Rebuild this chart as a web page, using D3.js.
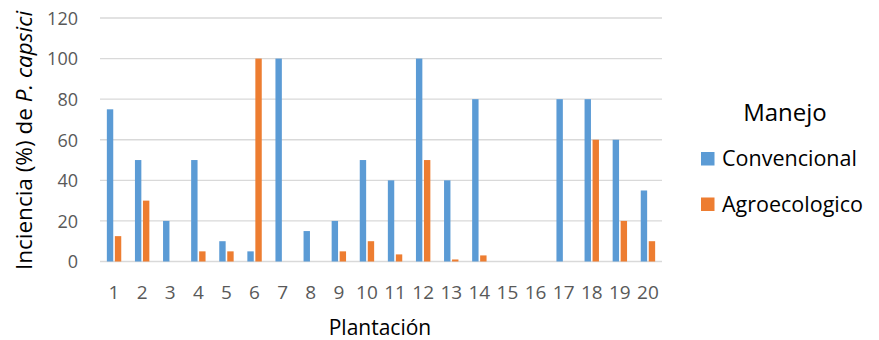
<!DOCTYPE html>
<html><head><meta charset="utf-8">
<script src="https://cdn.jsdelivr.net/npm/d3@7"></script>
<style>body{margin:0;background:#fff;} text{font-family:"Open Sans",sans-serif;}</style>
</head><body>
<svg id="c" width="879" height="340"></svg>
<script>
const categories = ["1","2","3","4","5","6","7","8","9","10","11","12","13","14","15","16","17","18","19","20"];
const convencional = [75,50,20,50,10,5,100,15,20,50,40,100,40,80,0,0,80,80,60,35];
const agroecologico = [12.5,30,0,5,5,100,0,0,5,10,3.5,50,1,3,0,0,0,60,20,10];
const seriesNames = ["Convencional","Agroecologico"];
const yTicks = [0,20,40,60,80,100,120];
const colors = ["#5B9BD5","#ED7D31"];

const svg = d3.select("#c");
const m = {left:100, right:662, top:18, bottom:261.5};
const x = d3.scaleBand().domain(categories).range([m.left, m.right]);
const y = d3.scaleLinear().domain([0,120]).range([m.bottom, m.top]);

// gridlines
svg.append("g").selectAll("line").data(yTicks).join("line")
  .attr("x1", m.left).attr("x2", m.right)
  .attr("y1", d=>y(d)).attr("y2", d=>y(d))
  .attr("stroke","#d9d9d9").attr("stroke-width",1.3);

// y axis labels
const yAxis = d3.axisLeft(y).tickValues(yTicks).tickSize(0).tickPadding(0);
const ya = svg.append("g").attr("transform","translate(78,0)").call(yAxis);
ya.select(".domain").remove();
ya.selectAll("text").attr("fill","#595959").style("font-size","18px").style("font-family","Open Sans").attr("dy","0.35em");

// x axis labels
const xAxis = d3.axisBottom(x).tickSize(0).tickPadding(0);
const xa = svg.append("g").attr("transform","translate(0,298.5)").call(xAxis);
xa.select(".domain").remove();
xa.selectAll("text").attr("fill","#595959").style("font-size","19px").style("font-family","Open Sans").attr("dy","0");

// bars
const bw = 6.4, gap = 1.6;
const data = [convencional, agroecologico];
data.forEach((vals, si) => {
  svg.append("g").selectAll("rect").data(vals).join("rect")
    .attr("x", (d,i) => x(categories[i]) + x.bandwidth()/2 + (si===0 ? -(bw+gap/2) : gap/2))
    .attr("width", bw)
    .attr("y", d => y(d))
    .attr("height", d => y(0) - y(d))
    .attr("fill", colors[si]);
});

// axis titles
svg.append("text").attr("transform","translate(32,140.5) rotate(-90)")
  .attr("text-anchor","middle").attr("fill","#000").style("font-size","22.5px")
  .html('Inciencia (%) de <tspan font-style="italic">P. capsici</tspan>');
svg.append("text").attr("x",380).attr("y",335).attr("text-anchor","middle")
  .attr("fill","#000").style("font-size","21px").text("Plantación");

// legend
svg.append("text").attr("x",785).attr("y",121).attr("text-anchor","middle")
  .attr("fill","#000").style("font-size","24px").text("Manejo");
const lg = svg.append("g").selectAll("g").data(seriesNames).join("g")
  .attr("transform",(d,i)=>`translate(701,${152 + i*45.5})`);
lg.append("rect").attr("width",13.5).attr("height",13.5).attr("fill",(d,i)=>colors[i]);
lg.append("text").attr("x",21).attr("y",14).attr("fill","#000").style("font-size","21.5px").text(d=>d);
</script>
</body></html>
